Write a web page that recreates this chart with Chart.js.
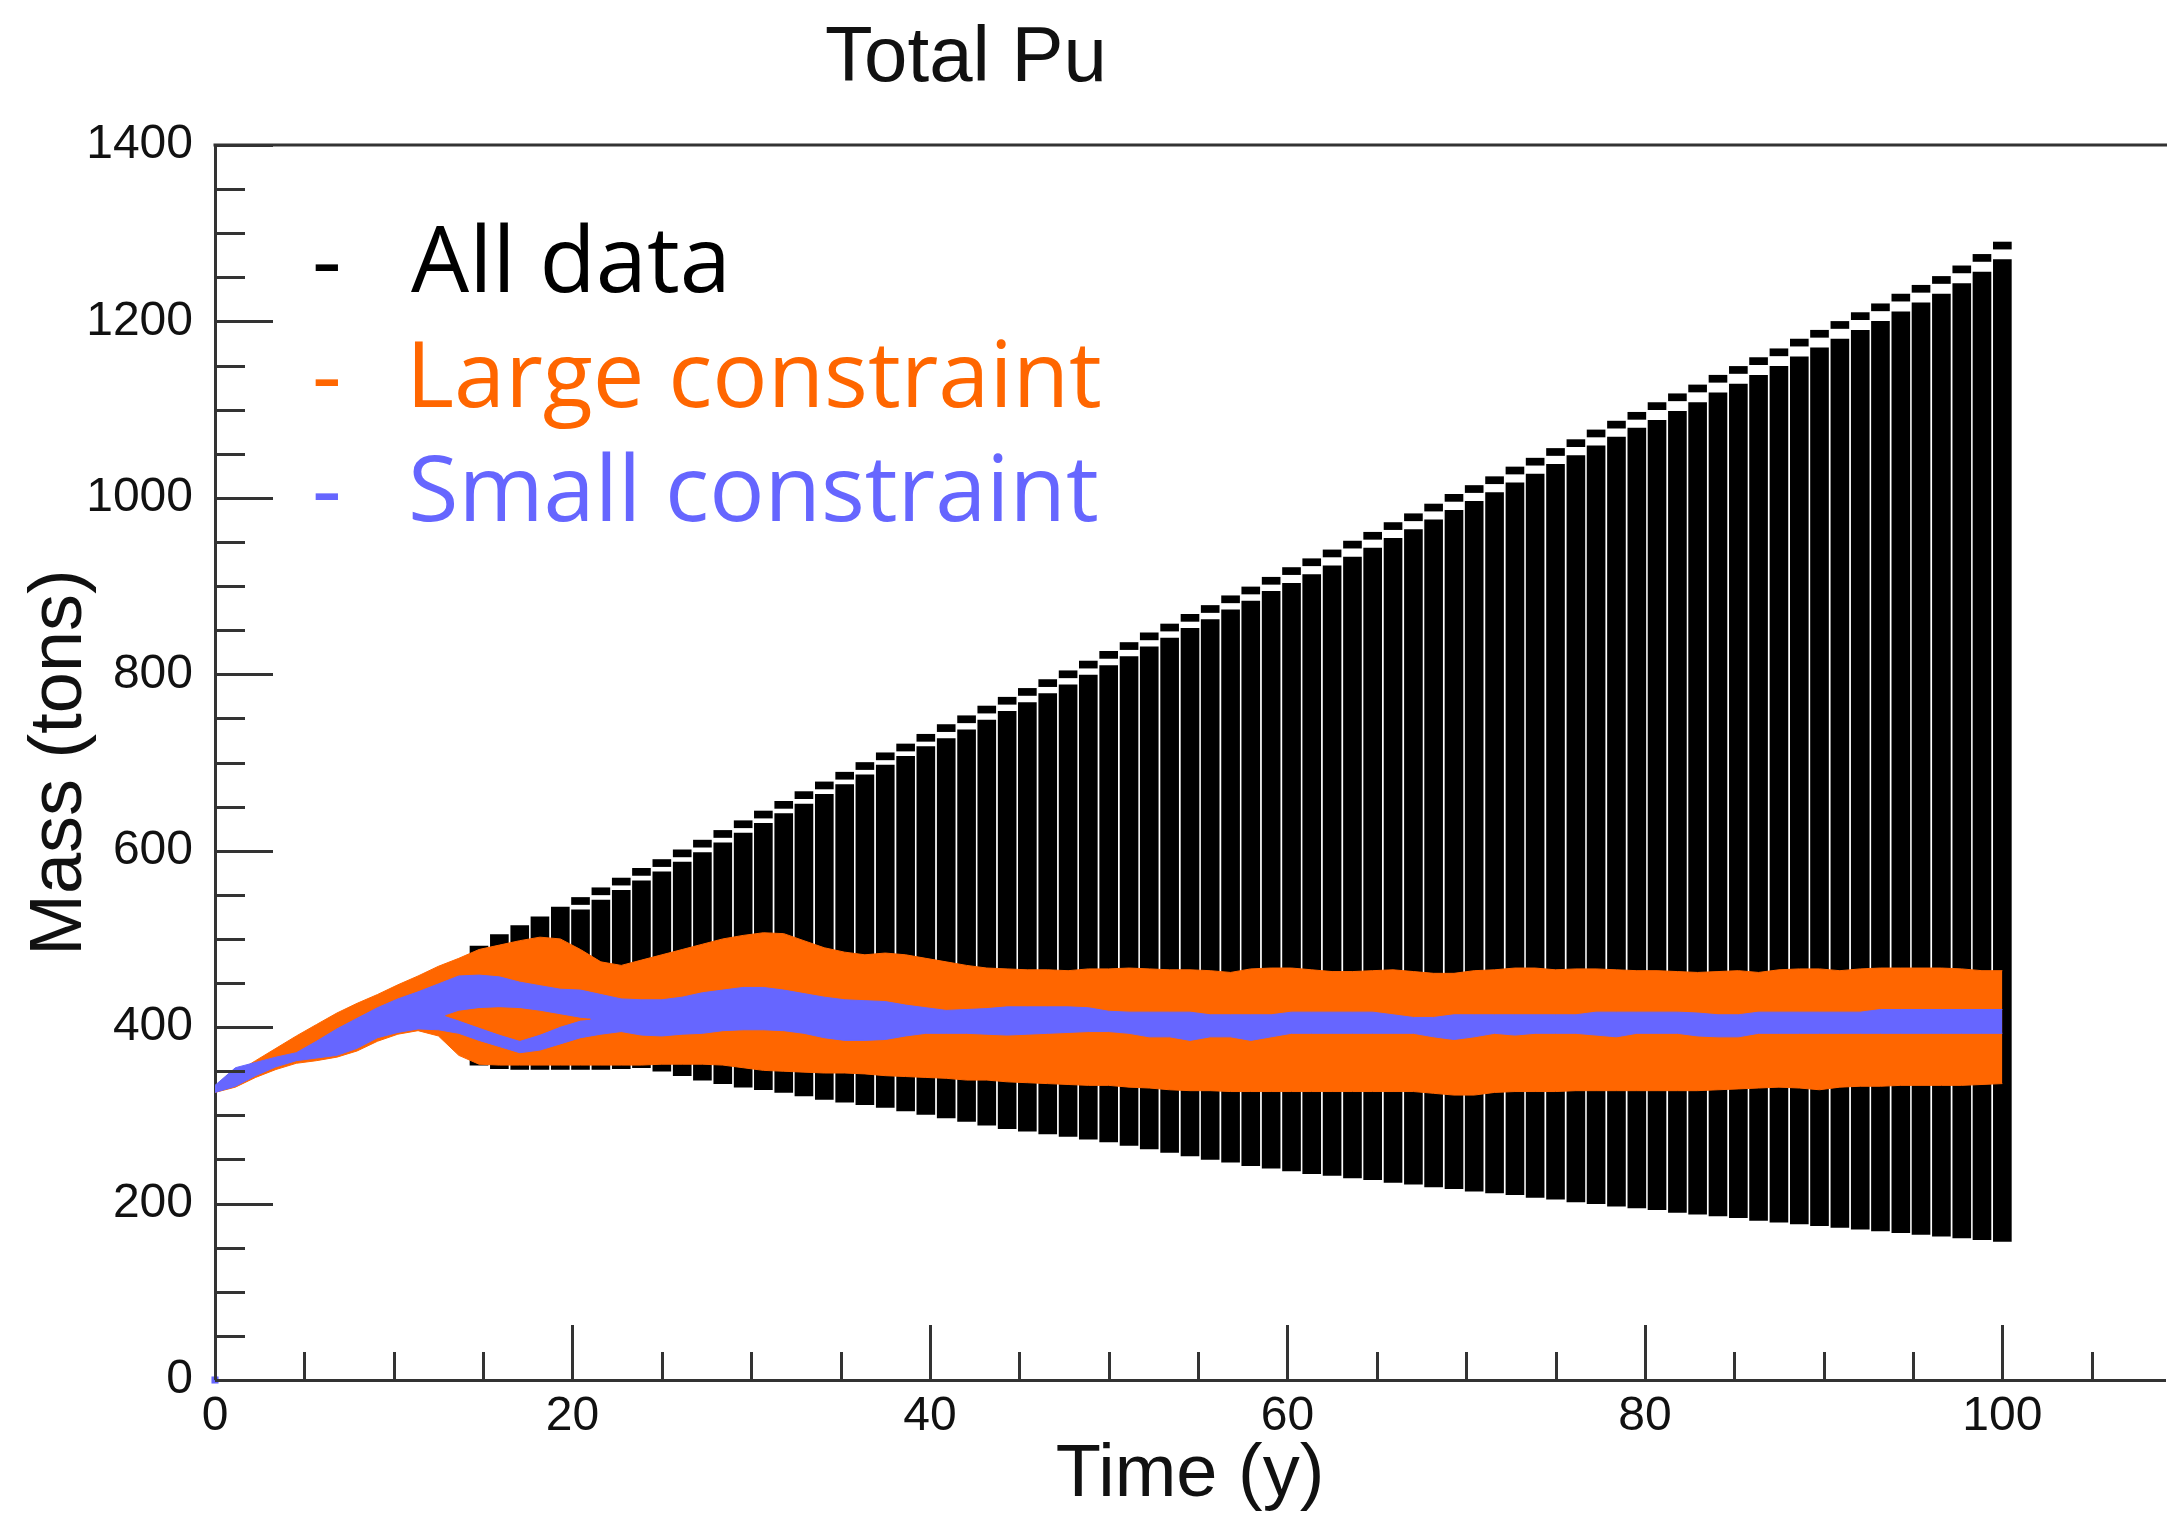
<!DOCTYPE html>
<html><head><meta charset="utf-8">
<script src="https://cdn.jsdelivr.net/npm/chart.js@4"></script>
<style>
html,body{margin:0;padding:0;background:#fff;overflow:hidden;}
#wrap{position:relative;width:2170px;height:1515px;}
canvas{position:absolute;left:0;top:0;}
.t{position:absolute;white-space:nowrap;margin:0;}
#title{font-family:'Liberation Sans',Arial,sans-serif;font-size:78px;line-height:78px;top:15px;left:0;width:1932px;text-align:center;color:#111;}
.leg{font-family:'Open Sans',sans-serif;font-size:92px;line-height:92px;}
</style></head>
<body><div id="wrap"><canvas id="c" width="2170" height="1515"></canvas>
<div id="title" class="t">Total Pu</div>
<div class="t leg" style="left:312px;top:211px;color:#000">-</div>
<div class="t leg" style="left:411px;top:211px;color:#000">All data</div>
<div class="t leg" style="left:312px;top:326px;color:#ff6600">-</div>
<div class="t leg" style="left:406px;top:326px;color:#ff6600">Large constraint</div>
<div class="t leg" style="left:312px;top:440px;color:#6666ff">-</div>
<div class="t leg" style="left:408px;top:440px;color:#6666ff">Small constraint</div>
</div>
<script>
// time samples (years)
const times = [0,1.14,2.27,3.41,4.55,5.68,6.82,7.95,9.09,10.23,11.36,12.5,13.64,14.77,15.91,17.05,18.18,19.32,20.45,21.59,22.73,23.86,25,26.14,27.27,28.41,29.55,30.68,31.82,32.95,34.09,35.23,36.36,37.5,38.64,39.77,40.91,42.05,43.18,44.32,45.45,46.59,47.73,48.86,50,51.14,52.27,53.41,54.55,55.68,56.82,57.95,59.09,60.23,61.36,62.5,63.64,64.77,65.91,67.05,68.18,69.32,70.45,71.59,72.73,73.86,75,76.14,77.27,78.41,79.55,80.68,81.82,82.95,84.09,85.23,86.36,87.5,88.64,89.77,90.91,92.05,93.18,94.32,95.45,96.59,97.73,98.86,100];

// All data: main body of the spread (tons)
const allHi = [330,345,355,362,368,378,388,400,410,420,430,440,455,492,505,515,525,536,533,544,555,566,576,587,598,609,620,631,642,653,664,675,686,697,707,718,727,737,748,758,768,778,788,799,810,820,831,841,852,862,873,883,894,903,913,923,933,943,954,964,975,986,996,1006,1017,1027,1038,1048,1059,1069,1079,1088,1098,1108,1119,1129,1139,1149,1160,1170,1180,1190,1200,1211,1221,1231,1243,1256,1270];
const allLo = [330,340,350,358,364,370,378,388,398,405,410,412,405,357,353,352,352,352,352,352,353,354,350,345,340,336,332,329,326,322,318,315,312,309,305,301,297,293,289,285,282,279,276,273,270,266,262,258,254,250,247,243,240,237,234,232,229,227,224,222,219,217,214,212,210,207,205,202,200,197,195,193,190,188,186,184,181,179,177,175,173,171,169,167,165,163,161,159,157];
// All data: outermost trajectories along the upper edge (tons)
const allTop = [null,null,null,null,null,null,null,null,null,null,null,null,null,null,null,null,null,null,547,558,569,580,590,601,612,623,634,645,656,667,678,689,700,711,721,732,743,753,764,774,784,794,804,815,826,836,847,857,868,878,889,899,910,921,931,941,951,961,972,982,993,1004,1014,1024,1035,1045,1056,1066,1077,1087,1097,1108,1118,1128,1139,1149,1159,1169,1180,1190,1200,1210,1220,1231,1241,1251,1263,1276,1290];

// Large constraint: envelope (tons)
const largeHi = [332,348,362,376,390,403,416,427,437,448,458,469,478,488,493,498,502,500,488,474,470,476,482,488,494,500,504,507,506,498,490,485,482,484,482,478,474,470,467,466,465,465,464,466,466,467,466,465,465,464,462,466,467,467,465,463,463,464,465,463,461,461,464,465,467,467,465,466,466,465,464,464,463,462,463,464,462,465,466,466,464,466,467,467,467,467,466,464,464];
const largeLo = [326,332,343,352,359,362,366,373,384,392,396,390,368,358,357,357,357,357,357,357,357,357,358,358,358,357,354,351,350,349,348,348,347,345,344,343,342,340,340,338,337,336,335,334,334,332,331,329,328,328,327,327,327,327,327,327,327,327,327,327,325,323,323,326,327,327,327,328,328,328,328,328,328,328,329,330,331,332,331,329,332,333,333,334,334,334,334,335,336];

// Small constraint: envelope (tons)
const smallHi = [334,354,360,366,371,384,398,410,422,432,440,449,458,459,457,451,447,443,442,437,432,431,431,434,439,442,445,445,442,438,434,431,430,429,425,422,419,420,421,423,423,423,423,422,418,417,417,417,417,414,414,414,414,417,417,417,417,417,414,411,411,414,414,414,414,414,414,414,417,417,417,417,417,416,414,414,417,417,417,417,417,417,420,420,420,420,420,420,420];
const smallLo = [326,333,345,355,362,365,368,376,388,394,398,397,393,385,378,371,374,381,388,392,395,391,390,392,393,396,397,397,396,393,388,385,385,386,390,393,393,393,392,391,392,393,394,395,395,393,389,389,385,389,389,385,389,393,393,393,393,393,393,393,389,386,389,393,391,393,393,393,391,389,393,393,393,390,389,389,393,393,393,393,393,393,393,393,393,393,393,393,393];

// Large-constraint region enclosed between the two small-constraint branches
const holeTimes = [12.9,13.64,14.77,15.91,17.05,18.18,19.32,20.45,21.0];
const holeHi = [413,418,421,422,421,418,414,410,409];
const holeLo = [413,408,400,392,385,392,401,408,409];

const originPoint = [{x:0, y:0}];

const xTickLabels = [0,20,40,60,80,100];
const yTickLabels = [0,200,400,600,800,1000,1200,1400];

const ORANGE = '#ff6600', BLUE = '#6666ff', AXIS = '#333333';
const DASH = 8; // thickness of the outer-trajectory dash marks, in tons
const pts = (xs, ys) => xs.map((x, i) => ({x, y: ys[i]}));

const axisDecor = {
  id: 'axisDecor',
  afterDatasetsDraw(chart) {
    const {ctx, chartArea: a, scales: {x, y}} = chart;
    ctx.save();
    ctx.strokeStyle = AXIS; ctx.lineWidth = 3; ctx.lineCap = 'butt';
    ctx.beginPath();
    ctx.moveTo(a.left - 1.5, a.top); ctx.lineTo(a.right + 2, a.top);
    for (let v = y.min; v <= y.max; v += 50) {
      const py = Math.round(y.getPixelForValue(v)) + 0.5;
      const len = (v % 200 === 0) ? 58 : 30;
      ctx.moveTo(a.left, py); ctx.lineTo(a.left + len, py);
    }
    for (let v = x.min; v <= x.max; v += 5) {
      const px = Math.round(x.getPixelForValue(v)) + 0.5;
      const len = (v % 20 === 0) ? 55 : 28;
      ctx.moveTo(px, a.bottom); ctx.lineTo(px, a.bottom - len);
    }
    ctx.stroke();
    ctx.restore();
  }
};

const lineBase = {type: 'line', pointRadius: 0, borderWidth: 1, tension: 0, fill: false};
const topDashes = times.map((t, i) => allTop[i] == null ? null : ({x: t, y: [allTop[i] - DASH, allTop[i]]})).filter(p => p);

new Chart(document.getElementById('c'), {
  type: 'bar',
  data: {
    datasets: [
      {type: 'bar', label: 'All data', data: times.map((t, i) => ({x: t, y: [allLo[i], allHi[i]]})),
       backgroundColor: '#000', borderWidth: 0, barThickness: 18, order: 10},
      {type: 'bar', label: 'All data (outer)', data: topDashes,
       backgroundColor: '#000', borderWidth: 0, barThickness: 18, order: 10, grouped: false},
      {...lineBase, label: 'Large lo', data: pts(times, largeLo), borderColor: ORANGE, order: 5},
      {...lineBase, label: 'Large constraint', data: pts(times, largeHi), borderColor: ORANGE, backgroundColor: ORANGE, fill: '-1', order: 5},
      {...lineBase, label: 'Small lo', data: pts(times, smallLo), borderColor: BLUE, order: 3},
      {...lineBase, label: 'Small constraint', data: pts(times, smallHi), borderColor: BLUE, backgroundColor: BLUE, fill: '-1', order: 3},
      {...lineBase, label: 'Large inner lo', data: pts(holeTimes, holeLo), borderColor: ORANGE, order: 2},
      {...lineBase, label: 'Large inner hi', data: pts(holeTimes, holeHi), borderColor: ORANGE, backgroundColor: ORANGE, fill: '-1', order: 2},
      {type: 'line', label: 'origin', data: originPoint, showLine: false, pointRadius: 5, pointStyle: 'rect',
       pointBackgroundColor: BLUE, pointBorderWidth: 0, clip: false, order: 1}
    ]
  },
  options: {
    responsive: false, animation: false, events: [],
    datasets: {bar: {grouped: false}},
    layout: {padding: {top: 145, left: 0, right: 0, bottom: 0}},
    plugins: {legend: {display: false}, tooltip: {enabled: false}, title: {display: false}},
    scales: {
      x: {
        type: 'linear', min: 0, max: 109.1, offset: false,
        afterBuildTicks: s => { s.ticks = xTickLabels.map(v => ({value: v})); },
        afterFit: s => { s.height = 135; },
        grid: {display: true, drawOnChartArea: false, drawTicks: false},
        border: {display: true, color: AXIS, width: 3},
        ticks: {padding: 8, color: '#111', font: {family: 'Liberation Sans', size: 48}, maxRotation: 0, autoSkip: false,
                callback: v => String(v)},
        title: {display: true, text: 'Time (y)', color: '#111', padding: {bottom: 2, top: 0},
                font: {family: 'Liberation Sans', size: 74, lineHeight: 1}}
      },
      y: {
        type: 'linear', min: 0, max: 1400,
        afterBuildTicks: s => { s.ticks = yTickLabels.map(v => ({value: v})); },
        afterFit: s => { s.width = 215; },
        grid: {display: true, drawOnChartArea: false, drawTicks: false},
        border: {display: true, color: AXIS, width: 3},
        ticks: {padding: 22, color: '#111', font: {family: 'Liberation Sans', size: 48}, callback: v => String(v)},
        title: {display: true, text: 'Mass (tons)', color: '#111', padding: {top: 16, bottom: 0},
                font: {family: 'Liberation Sans', size: 74, lineHeight: 1.2}}
      }
    }
  },
  plugins: [axisDecor]
});
</script>
</body></html>
